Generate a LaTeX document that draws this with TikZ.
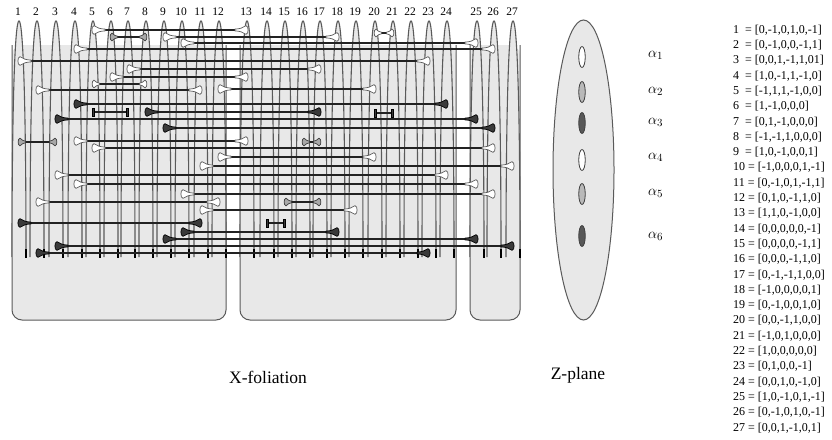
\documentclass[tikz,border=0pt]{standalone}
\usepackage{fontspec}
\setmainfont{Liberation Serif}
\usetikzlibrary{calc,shapes.geometric}
\definecolor{boxgray}{HTML}{E8E8E8}
\definecolor{edgegray}{HTML}{5A5A5A}
\definecolor{linedark}{HTML}{222222}
\definecolor{midgray}{HTML}{A8A8A8}
\definecolor{darkfill}{HTML}{3A3A3A}
\newcommand\myconn[5]{%
  \draw[conline] ($(c#2)+(0,#1)$) -- ($(c#3)+(0,#1)$);
  \pic[#4] at ($(c#2)+(0,#1)$) {#5};
  \pic[#4,rotate=180] at ($(c#3)+(0,#1)$) {#5};}
\begin{document}
\begin{tikzpicture}[x=1pt,y=-1pt,
  conline/.style={draw=linedark,line width=1.7pt},
  mwhite/.style={fill=white,draw=edgegray,line width=0.7pt},
  mgrey/.style={fill=midgray,draw=edgegray!70!black,line width=0.7pt},
  mdark/.style={fill=darkfill,draw=black,line width=0.7pt},
  bell/.pic={\path[pic actions] (1,-4.3) .. controls (-1.8,-4.3) and (-1.8,4.3) .. (1,4.3) .. controls (4,2.2) and (7,1.1) .. (12,0.9) -- (12,-0.9) .. controls (7,-1.1) and (4,-2.2) .. (1,-4.3) -- cycle;},
  sbell/.pic={\path[pic actions] (1,-3.8) .. controls (-1.5,-3.8) and (-1.5,3.8) .. (1,3.8) .. controls (3,1.9) and (4.5,0.9) .. (6.5,0.8) -- (6.5,-0.8) .. controls (4.5,-0.9) and (3,-1.9) .. (1,-3.8) -- cycle;},
  tbar/.pic={\path[pic actions] (-0.4,-4) rectangle (1.8,4);},
  boxst/.style={draw=edgegray,line width=1pt,rounded corners=10pt},
  boxfl/.style={fill=boxgray,rounded corners=10pt},
  leaf/.style={fill=boxgray,draw=edgegray,line width=1.1pt},
  tick/.style={draw=black,line width=1.3pt},
  collab/.style={font=\fontsize{11.5}{13}\selectfont,inner sep=0pt},
  listst/.style={font=\fontsize{12}{14}\selectfont,inner sep=0pt,anchor=west},
  alab/.style={font=\fontsize{15}{17}\selectfont,inner sep=0pt,anchor=west},
  oval/.style={ellipse,draw=black!75,line width=0.8pt,minimum width=6.5pt,minimum height=21pt,inner sep=0pt},
  caption/.style={font=\fontsize{17.5}{20}\selectfont,inner sep=0pt}]
\fill[white] (0,0) rectangle (832,439);
\useasboundingbox (0,0) rectangle (832,439);
% column positions
\foreach \i/\x in {1/19,2/37,3/56,4/75,5/93,6/111,7/128,8/146,9/164,10/182,11/201,12/219,13/247,14/267,15/285,16/303,17/320,18/338,19/356,20/375,21/393,22/411,23/429,24/447,25/477,26/494,27/513}
  {\coordinate (c\i) at (\x,0);
   \node[collab] (l\i) at (\x-1,12) {\i};}
% foliation boxes
\fill[boxfl] (12,45) -- (12,320) -- (226,320) -- (226,45) -- cycle;
\draw[boxst] (12,45) -- (12,320) -- (226,320) -- (226,45);
\fill[boxfl] (240,45) -- (240,320) -- (456,320) -- (456,45) -- cycle;
\draw[boxst] (240,45) -- (240,320) -- (456,320) -- (456,45);
\fill[boxfl] (470,45) -- (470,320) -- (520,320) -- (520,45) -- cycle;
\draw[boxst] (470,45) -- (470,320) -- (520,320) -- (520,45);
% leaves
\foreach \i in {1,...,27}
  {\path[leaf] ($(c\i)+(-7,257)$) .. controls +(0,-157) and +(-4,0) .. ($(c\i)+(0,21)$) .. controls +(4,0) and +(0,-157) .. ($(c\i)+(7,257)$);
   \draw[tick] ($(c\i)+(7,249)$) -- ++(0,9);}
% connectors
\myconn{30}{5}{13}{mwhite}{bell}
\myconn{33}{20}{21}{mwhite}{sbell}
\myconn{37}{6}{8}{mgrey}{sbell}
\myconn{37}{9}{18}{mwhite}{bell}
\myconn{43}{10}{25}{mwhite}{bell}
\myconn{49}{4}{26}{mwhite}{bell}
\myconn{61}{1}{23}{mwhite}{bell}
\myconn{69}{7}{17}{mwhite}{bell}
\myconn{77}{6}{13}{mwhite}{bell}
\myconn{84}{5}{8}{mwhite}{sbell}
\myconn{90}{2}{11}{mwhite}{bell}
\myconn{89}{12}{20}{mwhite}{bell}
\myconn{104}{4}{24}{mdark}{bell}
\myconn{112}{5}{7}{mdark}{tbar}
\myconn{112}{8}{17}{mdark}{bell}
\myconn{113}{20}{21}{mdark}{tbar}
\myconn{119}{3}{25}{mdark}{bell}
\myconn{128}{9}{26}{mdark}{bell}
\myconn{142}{1}{3}{mgrey}{sbell}
\myconn{141}{4}{13}{mwhite}{bell}
\myconn{142}{16}{17}{mgrey}{sbell}
\myconn{148}{5}{26}{mwhite}{bell}
\myconn{157}{12}{20}{mwhite}{bell}
\myconn{166}{11}{27}{mwhite}{bell}
\myconn{175}{3}{24}{mwhite}{bell}
\myconn{184}{4}{25}{mwhite}{bell}
\myconn{194}{10}{26}{mwhite}{bell}
\myconn{202}{2}{12}{mwhite}{bell}
\myconn{202}{15}{17}{mgrey}{sbell}
\myconn{210}{11}{19}{mwhite}{bell}
\myconn{223}{1}{11}{mdark}{bell}
\myconn{223}{14}{15}{mdark}{tbar}
\myconn{232}{10}{18}{mdark}{bell}
\myconn{239}{9}{25}{mdark}{bell}
\myconn{246}{3}{27}{mdark}{bell}
\myconn{253}{2}{23}{mdark}{bell}
% Z-plane
\node[ellipse,draw=edgegray,fill=boxgray,line width=1pt,minimum width=61pt,minimum height=300pt,inner sep=0pt] (zp) at (583.5,170) {};
\node[oval,fill=white] (o1) at (582,57) {};
\node[oval,fill=midgray!80] (o2) at (582,92) {};
\node[oval,fill=darkfill!85] (o3) at (582,123) {};
\node[oval,fill=white] (o4) at (582,160) {};
\node[oval,fill=midgray!80] (o5) at (582,194) {};
\node[oval,fill=darkfill!85] (o6) at (582,236) {};
\node[alab] (a1) at (648,55) {$\alpha_1$};
\node[alab] (a2) at (648,91) {$\alpha_2$};
\node[alab] (a3) at (648,122) {$\alpha_3$};
\node[alab] (a4) at (648,157) {$\alpha_4$};
\node[alab] (a5) at (648,193) {$\alpha_5$};
\node[alab] (a6) at (648,236) {$\alpha_6$};
% captions
\node[caption] (xf) at (268,377) {X-foliation};
\node[caption] (zpl) at (578,375) {Z-plane};
% vector list
\foreach \k/\v in {1/{1\ \ = [0,-1,0,1,0,-1]},2/{2\ \ = [0,-1,0,0,-1,1]},3/{3\ \ = [0,0,1,-1,1,01]},4/{4\ \ = [1,0,-1,1,-1,0]},5/{5\ \ = [-1,1,1,-1,0,0]},6/{6\ \ = [1,-1,0,0,0]},7/{7\ \ = [0,1,-1,0,0,0]},8/{8\ \ = [-1,-1,1,0,0,0]},9/{9\ \ = [1,0,-1,0,0,1]},10/{10 = [-1,0,0,0,1,-1]},11/{11 = [0,-1,0,1,-1,1]},12/{12 = [0,1,0,-1,1,0]},13/{13 = [1,1,0,-1,0,0]},14/{14 = [0,0,0,0,0,-1]},15/{15 = [0,0,0,0,-1,1]},16/{16 = [0,0,0,-1,1,0]},17/{17 = [0,-1,-1,1,0,0]},18/{18 = [-1,0,0,0,0,1]},19/{19 = [0,-1,0,0,1,0]},20/{20 = [0,0,-1,1,0,0]},21/{21 = [-1,0,1,0,0,0]},22/{22 = [1,0,0,0,0,0]},23/{23 = [0,1,0,0,-1]},24/{24 = [0,0,1,0,-1,0]},25/{25 = [1,0,-1,0,1,-1]},26/{26 = [0,-1,0,1,0,-1]},27/{27 = [0,0,1,-1,0,1]}}
  {\node[listst] (v\k) at (733,{30+(\k-1)*15.3}) {\v};}
\end{tikzpicture}
\end{document}
